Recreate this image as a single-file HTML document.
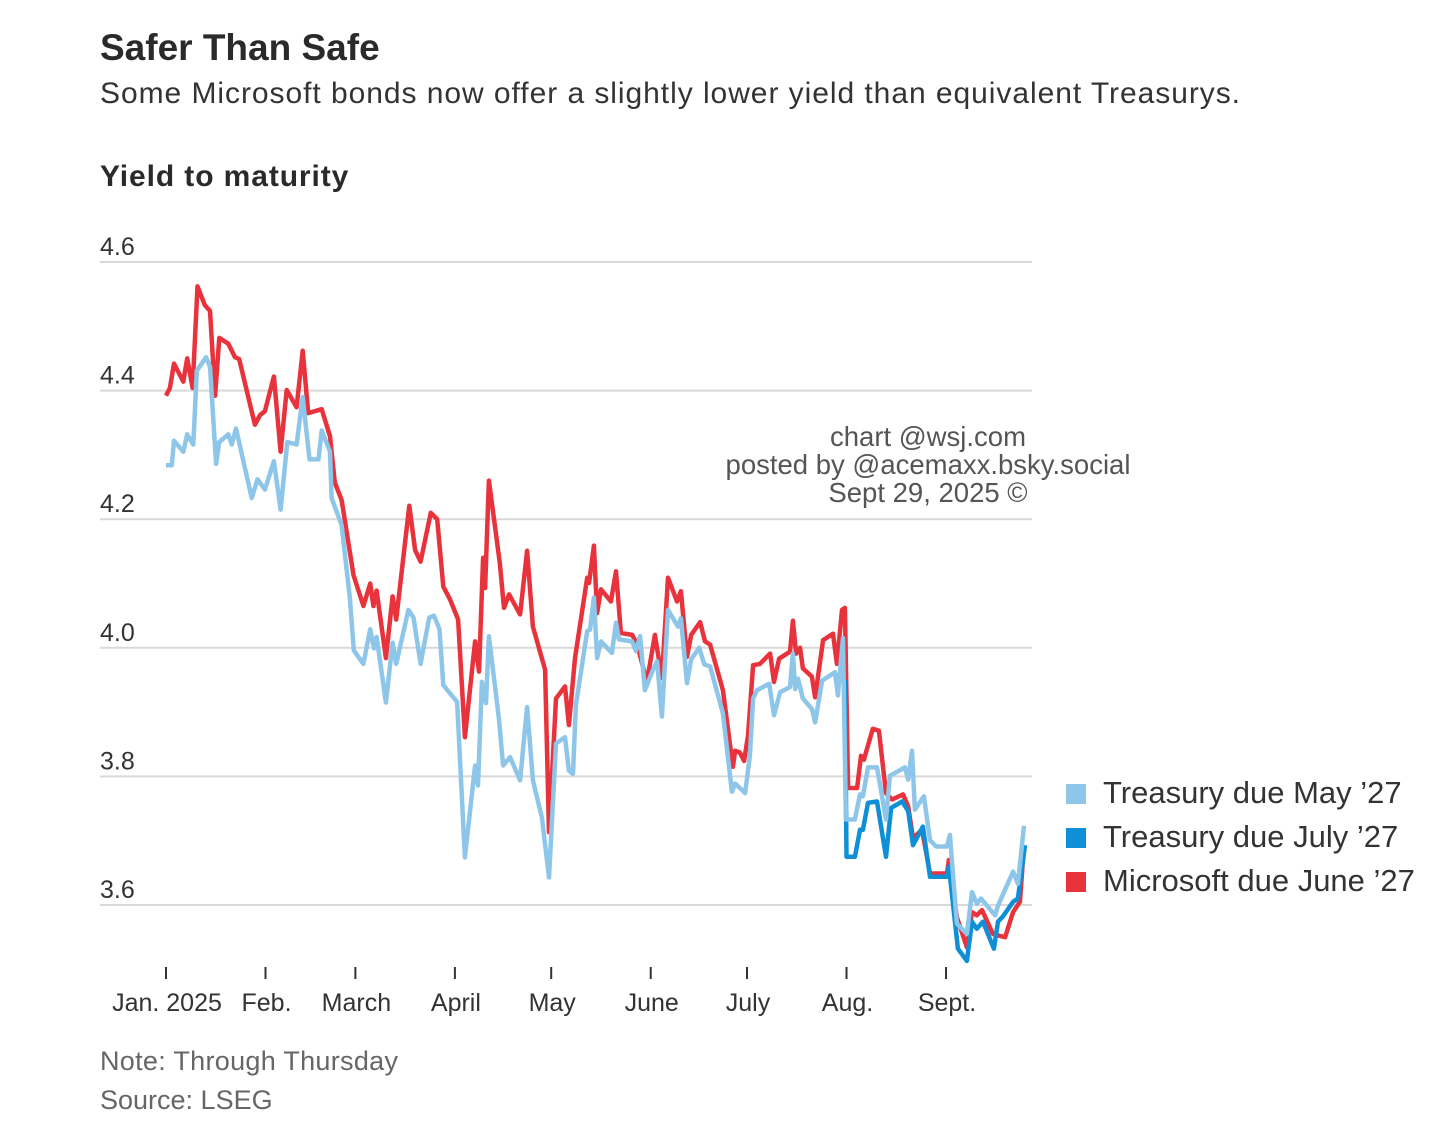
<!DOCTYPE html>
<html><head><meta charset="utf-8">
<style>
html,body{margin:0;padding:0;background:#fff;}
body{width:1456px;height:1131px;overflow:hidden;position:relative;font-family:"Liberation Sans",sans-serif;color:#333;}
.abs{position:absolute;white-space:nowrap;}
</style></head>
<body>
<div class="abs" style="left:100px;top:27px;font-size:37px;font-weight:bold;color:#2a2a2a;letter-spacing:0px;">Safer Than Safe</div>
<div class="abs" style="left:100px;top:77px;font-size:30px;color:#333;letter-spacing:0.95px;">Some Microsoft bonds now offer a slightly lower yield than equivalent Treasurys.</div>
<div class="abs" style="left:100px;top:160px;font-size:30px;font-weight:bold;color:#2a2a2a;letter-spacing:0.9px;">Yield to maturity</div>
<svg id="chart" width="1456" height="1131" style="position:absolute;left:0;top:0;">
<g id="grid"></g><g id="xaxis"></g><g id="lines"></g>
</svg>
<div class="abs" style="left:928px;top:423px;transform:translateX(-50%);text-align:center;font-size:27.5px;line-height:28px;color:#555;">chart @wsj.com<br>posted by @acemaxx.bsky.social<br>Sept 29, 2025 ©</div>
<div class="abs" style="left:1066px;top:771px;font-size:31px;color:#333;line-height:44px;">
<div><span style="display:inline-block;width:20px;height:20px;background:#8ec6ea;margin-right:17px;vertical-align:-1px;"></span>Treasury due May ’27</div>
<div><span style="display:inline-block;width:20px;height:20px;background:#0e8fd6;margin-right:17px;vertical-align:-1px;"></span>Treasury due July ’27</div>
<div><span style="display:inline-block;width:20px;height:20px;background:#e8323c;margin-right:17px;vertical-align:-1px;"></span>Microsoft due June ’27</div>
</div>
<div class="abs" style="left:100px;top:1046px;font-size:27px;color:#666;letter-spacing:0.3px;">Note: Through Thursday</div>
<div class="abs" style="left:100px;top:1085px;font-size:27px;color:#666;">Source: LSEG</div>
<script>
const yTicks=[4.6,4.4,4.2,4.0,3.8,3.6];
const yTickLabels=["4.6","4.4","4.2","4.0","3.8","3.6"];
const monthDays=[0,31,59,90,120,151,181,212,243];
const monthLabels=["Jan. 2025","Feb.","March","April","May","June","July","Aug.","Sept."];
const msDays=[0,1.2,2.5,5.4,6.6,8.3,9.8,12.1,13.7,15.3,16.6,19.4,21.5,22.8,27.7,29.3,30.8,33.6,35.7,37.6,40.7,42.6,44.3,48.5,51.1,52.6,54.7,58.4,61.5,63.6,64.6,65.6,68.5,70.6,71.7,75.8,77.6,79.3,82.5,84.5,86.4,88.5,91.0,93.1,96.3,97.5,98.8,99.4,100.6,104.0,105.3,106.9,110.3,112.5,114.3,118.1,119.3,121.5,124.3,125.5,127.4,131.2,131.8,133.3,134.3,135.5,138.6,140.2,141.7,145.2,146.7,149.8,152.3,154.5,156.4,159.2,160.4,162.3,163.6,166.4,167.9,169.5,173.5,176.6,177.3,178.8,180.1,181.3,182.9,185.0,188.2,189.4,191.0,194.4,195.3,196.3,197.5,198.4,201.2,202.2,204.7,207.8,209.0,210.6,211.5,212.5,215.3,216.5,217.4,220.2,222.1,224.3,226.2,229.6,231.2,232.7,235.5,238.0,239.9,243.3,243.9,246.4,249.5,251.1,252.6,254.2,257.6,259.8,261.4,263.9,266.0,267.0];
const msVals=[4.392,4.404,4.442,4.414,4.45,4.404,4.562,4.533,4.524,4.392,4.482,4.473,4.452,4.449,4.347,4.362,4.368,4.422,4.305,4.401,4.374,4.462,4.365,4.371,4.329,4.257,4.23,4.113,4.065,4.1,4.065,4.089,3.984,4.08,4.044,4.221,4.152,4.134,4.21,4.2,4.095,4.075,4.044,3.861,4.01,3.963,4.14,4.093,4.26,4.132,4.062,4.083,4.052,4.151,4.033,3.966,3.713,3.921,3.94,3.88,3.984,4.109,4.101,4.159,4.054,4.091,4.072,4.119,4.023,4.02,4.007,3.947,4.02,3.953,4.109,4.072,4.088,3.986,4.02,4.04,4.01,4.005,3.934,3.815,3.84,3.837,3.824,3.863,3.973,3.975,3.991,3.947,3.983,3.994,4.042,3.991,4.0,3.968,3.955,3.923,4.012,4.022,3.975,4.059,4.062,3.782,3.782,3.832,3.826,3.874,3.871,3.774,3.764,3.772,3.753,3.704,3.717,3.649,3.649,3.649,3.67,3.581,3.534,3.589,3.584,3.592,3.555,3.552,3.55,3.589,3.605,3.673];
const mayDays=[0,1.8,2.5,5.4,6.6,8.5,9.6,12.5,13.7,15.6,16.6,19.4,20.5,21.8,26.7,28.5,30.8,33.6,35.7,37.8,40.7,42.6,44.7,47.5,48.5,51.1,51.6,54.7,57.3,58.5,61.5,63.6,64.8,65.6,68.5,70.6,71.7,75.5,77.1,79.3,82.0,83.5,85.2,86.4,88.5,90.7,93.1,96.3,97.2,98.4,99.7,100.6,103.7,105.0,107.2,110.3,112.5,114.3,117.1,119.3,121.5,124.3,125.5,126.8,127.7,131.2,132.1,133.3,134.3,135.5,138.9,140.2,141.1,145.2,146.4,147.7,149.2,151.7,153.0,154.5,156.4,159.5,160.4,162.3,163.6,166.1,167.7,169.5,173.5,176.3,177.3,178.8,180.4,181.9,182.9,184.1,187.9,189.4,191.3,194.4,195.3,196.0,196.9,198.4,201.2,202.2,204.4,208.4,209.3,210.9,211.8,214.6,216.2,217.1,218.7,221.5,224.3,225.5,230.2,231.2,232.4,233.3,236.1,238.0,239.9,243.3,244.2,246.4,249.5,251.1,252.6,253.9,258.3,259.2,263.9,265.4,267.3];
const mayVals=[4.284,4.284,4.322,4.305,4.332,4.316,4.431,4.452,4.437,4.286,4.32,4.332,4.316,4.341,4.233,4.262,4.246,4.29,4.215,4.32,4.316,4.39,4.293,4.293,4.338,4.305,4.233,4.191,4.077,3.996,3.975,4.029,3.999,4.017,3.915,4.008,3.975,4.059,4.047,3.975,4.047,4.05,4.029,3.942,3.929,3.916,3.674,3.817,3.786,3.947,3.914,4.018,3.89,3.817,3.83,3.794,3.908,3.794,3.736,3.643,3.851,3.861,3.809,3.804,3.911,4.026,4.028,4.078,3.984,4.01,3.992,4.039,4.013,4.01,3.995,4.018,3.934,3.966,3.979,3.893,4.059,4.033,4.046,3.945,3.982,4.0,3.974,3.971,3.898,3.776,3.789,3.782,3.774,3.832,3.921,3.934,3.944,3.895,3.931,3.939,3.991,3.936,3.952,3.921,3.905,3.884,3.949,3.962,3.926,4.015,3.733,3.733,3.772,3.769,3.814,3.814,3.733,3.801,3.814,3.795,3.84,3.748,3.769,3.701,3.691,3.691,3.709,3.571,3.555,3.62,3.602,3.61,3.584,3.599,3.652,3.633,3.723];
const julyDays=[211.5,212,214.6,216.2,217.1,218.7,221.5,224.3,225.9,229.3,231.2,232.7,235.8,238.0,239.9,243.3,243.9,246.7,249.5,251.1,252.6,254.5,257.9,259.2,260.7,263.9,265.4,267.6];
const julyVals=[3.95,3.675,3.675,3.717,3.717,3.759,3.761,3.675,3.751,3.761,3.746,3.693,3.722,3.644,3.644,3.644,3.66,3.532,3.513,3.574,3.563,3.574,3.532,3.574,3.582,3.605,3.61,3.693];

const NS="http://www.w3.org/2000/svg";
const xS=d=>166+d*3.21;
const yS=v=>905-(v-3.6)*643;
const grid=document.getElementById('grid');
yTicks.forEach((t,i)=>{
  const l=document.createElementNS(NS,'line');
  l.setAttribute('x1',100);l.setAttribute('x2',1032);
  l.setAttribute('y1',yS(t));l.setAttribute('y2',yS(t));
  l.setAttribute('stroke','#d9d9d9');l.setAttribute('stroke-width','2');
  
  
  grid.appendChild(l);
  const tx=document.createElementNS(NS,'text');
  tx.setAttribute('x',100);tx.setAttribute('y',yS(t)-7);
  tx.setAttribute('font-size','25');tx.setAttribute('fill','#333');
  tx.setAttribute('font-family','"Liberation Sans Narrow","Liberation Sans",sans-serif');
  tx.textContent=yTickLabels[i];
  
  
  grid.appendChild(tx);
});
const xa=document.getElementById('xaxis');
monthDays.forEach((d,i)=>{
  const l=document.createElementNS(NS,'line');
  l.setAttribute('x1',xS(d));l.setAttribute('x2',xS(d));
  l.setAttribute('y1',967);l.setAttribute('y2',979);
  l.setAttribute('stroke','#333');l.setAttribute('stroke-width','2');
  
  
  xa.appendChild(l);
  const tx=document.createElementNS(NS,'text');
  tx.setAttribute('x',xS(d)+1);tx.setAttribute('y',1011);
  tx.setAttribute('text-anchor','middle');
  tx.setAttribute('font-size','25');tx.setAttribute('fill','#333');
  tx.setAttribute('font-family','"Liberation Sans Narrow","Liberation Sans",sans-serif');
  tx.textContent=monthLabels[i];
  
  
  xa.appendChild(tx);
});
const lines=document.getElementById('lines');
function draw(days,vals,color,name){
  const p=document.createElementNS(NS,'polyline');
  p.setAttribute('points',days.map((d,i)=>xS(d).toFixed(1)+','+yS(vals[i]).toFixed(1)).join(' '));
  p.setAttribute('fill','none');p.setAttribute('stroke',color);
  p.setAttribute('stroke-width','4.5');p.setAttribute('stroke-linejoin','round');
  
  
  lines.appendChild(p);
}
draw(msDays,msVals,'#e8323c','microsoft-june-27-line');
draw(julyDays,julyVals,'#0e8fd6','treasury-july-27-line');
draw(mayDays,mayVals,'#8ec6ea','treasury-may-27-line');
</script>
</body></html>
